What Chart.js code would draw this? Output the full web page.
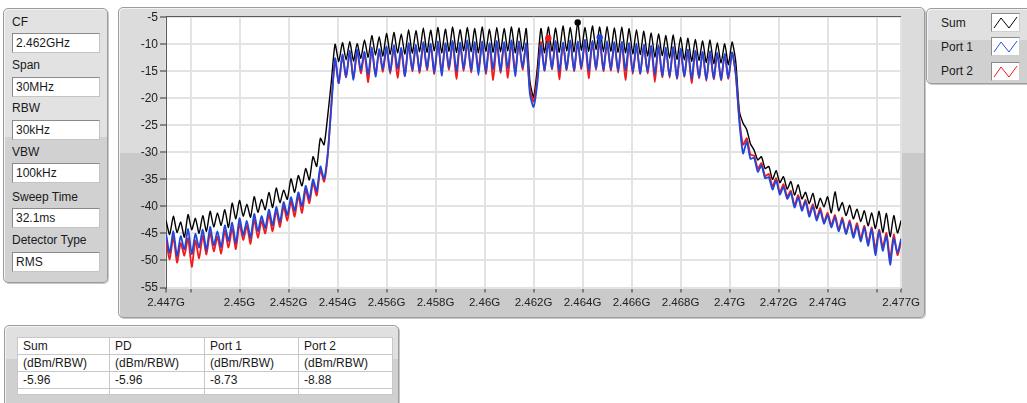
<!DOCTYPE html>
<html>
<head>
<meta charset="utf-8">
<script src="https://cdn.jsdelivr.net/npm/chart.js@4.4.1/dist/chart.umd.min.js"></script>
<style>
html,body{margin:0;padding:0;background:#fff;width:1027px;height:403px;overflow:hidden;
  font-family:'Liberation Sans',Arial,sans-serif;font-size:12px;color:#1a1a1a;}
.panel{position:absolute;border:1px solid #9c9c9c;border-radius:5px;box-sizing:border-box;
  box-shadow:inset 1px 1px 0 #f3f3f3, 1px 1px 0 #c8c8c8;}
.lbl{position:absolute;left:8px;line-height:14px;white-space:nowrap;}
.box{position:absolute;left:8px;width:88px;height:20px;background:#fff;border:1px solid #8a8a8a;
  border-right-color:#c4c4c4;border-bottom-color:#c4c4c4;box-sizing:border-box;padding-left:3px;line-height:18px;}
.leg{position:absolute;left:14px;line-height:14px;}
.legbox{position:absolute;left:64px;width:29px;height:19px;background:#fff;border:1px solid #8a8a8a;
  border-right-color:#cfcfcf;border-bottom-color:#cfcfcf;box-sizing:border-box;}
.legbox svg{position:absolute;left:0;top:0;}
table{position:absolute;left:12px;top:11px;border-collapse:collapse;background:#fff;border:1px solid #8a8a8a;}
td{border:1px solid #c8c8c8;padding:0 0 0 5px;height:16px;line-height:15px;white-space:nowrap;}
#chartWrap{position:absolute;left:119px;top:8px;width:804px;height:308px;}
</style>
</head>
<body>

<div class="panel" style="left:3px;top:8px;width:105px;height:275px;background:linear-gradient(#e2e2e2 0,#e2e2e2 47%,#d1d1d1 47%,#d1d1d1 100%);">
  <div class="lbl" style="top:6px">CF</div>
  <div class="box" style="top:24px">2.462GHz</div>
  <div class="lbl" style="top:49px">Span</div>
  <div class="box" style="top:68px">30MHz</div>
  <div class="lbl" style="top:92px">RBW</div>
  <div class="box" style="top:111px">30kHz</div>
  <div class="lbl" style="top:136px">VBW</div>
  <div class="box" style="top:154px">100kHz</div>
  <div class="lbl" style="top:181px">Sweep Time</div>
  <div class="box" style="top:199px">32.1ms</div>
  <div class="lbl" style="top:224px">Detector Type</div>
  <div class="box" style="top:243px">RMS</div>
</div>

<div class="panel" style="left:118px;top:7px;width:807px;height:311px;background:linear-gradient(#dcdcdc 0,#dcdcdc 47%,#cacaca 47%,#cacaca 100%);"></div>
<div id="chartWrap"><canvas id="c" width="804" height="308"></canvas></div>

<div class="panel" style="left:926px;top:8px;width:115px;height:76px;background:linear-gradient(#e0e0e0 0,#e0e0e0 42%,#d0d0d0 42%,#d0d0d0 100%);">
  <div class="leg" style="top:7px">Sum</div>
  <div class="legbox" style="top:4px"><svg width="27" height="17"><polyline points="2,14 9,4 17,14 25,3" fill="none" stroke="#000" stroke-width="1"/></svg></div>
  <div class="leg" style="top:31px">Port 1</div>
  <div class="legbox" style="top:28px"><svg width="27" height="17"><polyline points="2,14 9,4 17,14 25,3" fill="none" stroke="#2a4fe0" stroke-width="1"/></svg></div>
  <div class="leg" style="top:55px">Port 2</div>
  <div class="legbox" style="top:53px"><svg width="27" height="17"><polyline points="2,14 9,4 17,14 25,3" fill="none" stroke="#f01818" stroke-width="1"/></svg></div>
</div>

<div class="panel" style="left:4px;top:325px;width:395px;height:95px;background:linear-gradient(#e0e0e0 0,#e0e0e0 36%,#d0d0d0 36%,#d0d0d0 100%);">
  <table id="tbl"></table>
</div>

<script>
// ---- Sweep definition ----
const sweepStartGHz = 2.447;
const sweepStopGHz = 2.477;

// ---- Trace values (dBm/RBW), one per sweep point ----
const sumDbm = [
-42.6,-45.2,-41.8,-44.8,-42.9,-45.7,-41.5,-44.3,-42.2,-45.0,
-41.7,-44.6,-40.9,-43.8,-41.2,-43.5,-40.6,-43.9,-39.4,-42.3,
-38.9,-41.8,-39.6,-42.0,-38.2,-41.1,-38.7,-40.6,-37.4,-40.2,
-36.6,-39.3,-37.0,-38.7,-34.9,-37.4,-34.3,-36.2,-33.0,-35.1,
-30.8,-32.6,-27.4,-28.6,-23.2,-16.8,-10.0,-13.2,-9.7,-12.9,
-9.5,-13.1,-9.9,-12.6,-9.2,-12.4,-8.4,-12.0,-8.6,-12.2,
-8.0,-11.9,-7.8,-11.6,-8.1,-11.8,-7.3,-11.7,-7.5,-11.4,
-7.0,-11.5,-7.4,-11.2,-6.9,-11.6,-7.2,-11.3,-6.8,-11.5,
-7.3,-11.2,-6.9,-11.4,-7.1,-11.6,-6.8,-11.3,-7.2,-11.5,
-6.9,-11.4,-7.1,-11.2,-6.8,-11.6,-7.0,-11.3,-7.1,-16.8,
-19.8,-14.5,-7.1,-11.6,-6.8,-11.3,-7.0,-11.5,-6.6,-11.2,
-6.9,-11.4,-5.96,-11.1,-6.9,-11.3,-6.6,-11.0,-6.8,-11.4,
-6.7,-11.3,-7.0,-11.5,-6.8,-11.6,-7.1,-11.8,-7.3,-11.9,
-7.6,-12.2,-7.9,-12.4,-8.1,-12.1,-8.4,-12.6,-8.3,-12.8,
-8.7,-12.9,-8.9,-13.2,-9.1,-13.0,-9.4,-13.4,-9.2,-13.6,
-9.7,-13.5,-9.9,-13.8,-9.6,-13.2,-22.4,-24.6,-25.8,-28.4,
-29.6,-31.4,-30.8,-33.0,-32.6,-35.0,-33.4,-35.6,-34.5,-36.8,
-35.4,-37.9,-36.0,-38.6,-37.4,-39.5,-37.6,-40.4,-38.5,-40.1,
-38.2,-41.2,-37.3,-40.8,-39.3,-41.7,-39.8,-42.3,-40.5,-42.8,
-40.8,-43.6,-41.2,-44.1,-40.9,-44.8,-41.3,-45.6,-41.7,-44.9,
-42.6];

const port1Dbm = [
-45.0,-48.6,-44.6,-49.2,-45.5,-48.0,-44.2,-48.8,-45.1,-47.6,
-44.3,-48.1,-43.8,-47.2,-44.6,-47.5,-43.5,-46.4,-43.0,-46.8,
-42.2,-45.3,-42.7,-45.8,-41.4,-44.6,-41.8,-44.0,-40.6,-43.5,
-40.1,-42.9,-39.2,-41.6,-38.3,-40.8,-37.4,-40.0,-36.2,-38.6,
-35.0,-37.2,-32.6,-34.9,-30.2,-21.5,-12.6,-17.2,-11.9,-16.0,
-11.2,-16.6,-11.0,-14.8,-11.4,-15.6,-10.6,-16.0,-10.9,-14.6,
-10.4,-15.1,-10.2,-14.5,-10.7,-15.9,-9.8,-14.7,-10.1,-14.9,
-9.6,-14.4,-9.9,-15.2,-9.5,-15.8,-9.8,-14.3,-9.4,-15.0,
-9.7,-14.5,-9.3,-14.8,-9.6,-15.7,-9.5,-15.1,-9.8,-14.6,
-9.4,-14.9,-9.6,-14.4,-9.3,-15.9,-9.5,-14.3,-9.8,-19.2,
-21.6,-17.4,-10.2,-14.8,-9.6,-14.5,-9.4,-15.0,-9.7,-14.6,
-9.3,-14.8,-9.5,-14.3,-9.2,-14.9,-9.4,-14.5,-8.73,-14.7,
-9.4,-14.6,-9.6,-15.0,-9.5,-14.8,-9.8,-15.2,-9.9,-15.4,
-10.1,-15.1,-10.3,-15.6,-10.2,-15.8,-10.6,-16.0,-10.5,-16.2,
-10.8,-15.9,-11.0,-16.4,-11.2,-16.1,-11.4,-16.6,-11.3,-16.3,
-11.6,-16.5,-11.8,-16.2,-11.5,-15.4,-24.5,-30.2,-28.0,-31.2,
-31.0,-33.6,-32.4,-34.8,-34.6,-36.9,-35.2,-37.8,-36.4,-38.6,
-37.5,-40.2,-38.3,-40.8,-39.1,-41.9,-40.0,-42.6,-40.8,-43.2,
-41.6,-43.9,-42.0,-44.6,-42.5,-45.1,-43.0,-45.8,-43.6,-46.5,
-43.9,-47.3,-44.2,-49.0,-44.6,-48.2,-45.4,-50.8,-45.9,-48.6,
-46.0];

const port2Dbm = [
-46.2,-49.8,-45.6,-50.4,-46.8,-49.1,-45.9,-51.2,-46.3,-49.6,
-45.4,-48.9,-44.8,-48.3,-45.6,-48.7,-44.5,-47.6,-44.1,-47.9,
-43.2,-46.2,-43.6,-46.9,-42.4,-45.8,-42.7,-45.0,-41.5,-44.6,
-40.8,-43.8,-40.0,-42.6,-39.1,-41.9,-38.0,-41.2,-36.9,-39.4,
-35.6,-38.0,-33.2,-35.4,-30.6,-20.8,-12.9,-17.2,-12.2,-16.1,
-11.5,-16.3,-11.2,-15.4,-11.7,-17.0,-10.9,-15.6,-11.2,-15.1,
-10.6,-15.5,-10.5,-16.2,-11.0,-15.8,-10.1,-15.0,-10.4,-15.3,
-9.9,-14.8,-10.2,-15.5,-9.8,-15.0,-10.1,-14.7,-9.7,-16.4,
-10.0,-14.9,-9.6,-15.2,-9.9,-14.6,-9.8,-15.5,-10.1,-16.6,
-9.7,-15.3,-9.9,-16.2,-9.6,-15.1,-9.8,-14.7,-10.1,-18.2,
-20.6,-16.4,-9.6,-14.9,-8.88,-14.6,-9.6,-16.5,-9.9,-14.8,
-9.5,-15.0,-9.7,-14.6,-9.4,-16.3,-9.6,-14.8,-9.5,-15.0,
-9.7,-14.9,-9.9,-15.3,-9.8,-16.6,-10.1,-15.5,-10.2,-15.6,
-10.3,-15.4,-10.5,-17.0,-10.4,-16.1,-10.8,-16.2,-10.7,-16.4,
-11.0,-16.1,-11.1,-17.2,-11.3,-16.3,-11.5,-16.8,-11.4,-16.5,
-11.7,-16.7,-11.9,-16.4,-11.6,-15.6,-23.8,-28.6,-27.4,-30.4,
-30.6,-33.0,-32.0,-34.4,-34.0,-36.3,-34.8,-37.4,-35.9,-38.2,
-37.1,-39.8,-37.9,-40.5,-38.8,-41.4,-39.6,-42.2,-40.3,-42.9,
-41.2,-43.5,-41.6,-44.3,-42.1,-45.0,-42.6,-45.4,-43.1,-46.0,
-43.6,-46.8,-43.9,-47.9,-44.3,-47.5,-44.9,-49.6,-45.2,-49.0,
-46.5];

// ---- Peak markers ----
const markerNames = ['Sum', 'Port 1', 'Port 2'];
const markerFreqGHz = [2.4638, 2.4647, 2.4626];
const markerDbm = [-5.96, -8.73, -8.88];

// ---- Axis ticks ----
const xTickValues = [2.447, 2.448, 2.450, 2.452, 2.454, 2.456, 2.458, 2.460, 2.462, 2.464, 2.466, 2.468, 2.470, 2.472, 2.474, 2.476, 2.477];
const xTickLabels = ['2.447G', '', '2.45G', '2.452G', '2.454G', '2.456G', '2.458G', '2.46G', '2.462G', '2.464G', '2.466G', '2.468G', '2.47G', '2.472G', '2.474G', '', '2.477G'];
const yMin = -55, yMax = -5, yStep = 5;

// ---- Table ----
const tableHeaders = ['Sum', 'PD', 'Port 1', 'Port 2'];
const tableUnits = ['(dBm/RBW)', '(dBm/RBW)', '(dBm/RBW)', '(dBm/RBW)'];
const tableValues = ['-5.96', '-5.96', '-8.73', '-8.88'];

(function buildTable(){
  const widths = [86, 89, 88, 88];
  const t = document.getElementById('tbl');
  const rows = [tableHeaders, tableUnits, tableValues, ['', '', '', '']];
  rows.forEach((r, ri) => {
    const tr = document.createElement('tr');
    r.forEach((v, ci) => {
      const td = document.createElement('td');
      td.textContent = v;
      td.style.width = widths[ci] + 'px';
      if (ri === 3) { td.style.height = '5px'; td.style.lineHeight = '5px'; }
      tr.appendChild(td);
    });
    t.appendChild(tr);
  });
})();

const nPts = sumDbm.length;
const stepGHz = (sweepStopGHz - sweepStartGHz) / (nPts - 1);
const freqGHz = sumDbm.map((_, i) => sweepStartGHz + i * stepGHz);
const xy = arr => arr.map((v, i) => ({x: freqGHz[i], y: v}));

const FONT = "'Liberation Sans', Arial, sans-serif";

const plotBg = {
  id: 'plotBg',
  beforeDraw(c) {
    const {ctx, chartArea: a} = c;
    ctx.save();
    ctx.fillStyle = '#ffffff';
    ctx.fillRect(a.left, a.top, a.right - a.left, a.bottom - a.top);
    ctx.restore();
  },
  afterDraw(c) {
    const {ctx, chartArea: a} = c;
    ctx.save();
    ctx.strokeStyle = '#5a5a5a';
    ctx.lineWidth = 1;
    ctx.beginPath();
    ctx.moveTo(a.left, Math.round(a.top) - 0.5);
    ctx.lineTo(a.right, Math.round(a.top) - 0.5);
    ctx.stroke();
    ctx.restore();
  }
};

const traceColors = ['#000000', '#2046dc', '#f21a1a'];

new Chart(document.getElementById('c'), {
  type: 'line',
  data: {
    datasets: [
      {label: 'Sum', data: xy(sumDbm), borderColor: traceColors[0], borderWidth: 1.4, pointRadius: 0, tension: 0.2, order: 3},
      {label: 'Port 2', data: xy(port2Dbm), borderColor: traceColors[2], borderWidth: 1.8, pointRadius: 0, tension: 0.2, order: 2},
      {label: 'Port 1', data: xy(port1Dbm), borderColor: traceColors[1], borderWidth: 1.8, pointRadius: 0, tension: 0.2, order: 1},
      ...markerNames.map((n, k) => ({
        label: n + ' peak', data: [{x: markerFreqGHz[k], y: markerDbm[k]}], showLine: false,
        pointRadius: 3.2, pointBackgroundColor: traceColors[k], pointBorderColor: traceColors[k], pointBorderWidth: 0, order: 0
      }))
    ]
  },
  options: {
    responsive: false,
    maintainAspectRatio: false,
    animation: false,
    devicePixelRatio: 1,
    layout: {padding: {left: 0, right: 21, top: 7.5, bottom: 0}},
    plugins: {legend: {display: false}, tooltip: {enabled: false}},
    scales: {
      x: {
        type: 'linear', min: sweepStartGHz, max: sweepStopGHz,
        afterBuildTicks(s) { s.ticks = xTickValues.map(v => ({value: v})); },
        ticks: {autoSkip: false, maxRotation: 0, minRotation: 0, color: '#222', padding: 3,
                font: {family: FONT, size: 11.5}, callback: (v, i) => xTickLabels[i]},
        grid: {color: '#e3e3e3', lineWidth: 2, tickColor: '#333', tickLength: 5, tickWidth: 1},
        border: {display: false},
        afterFit(s) { s.height = 28.5; }
      },
      y: {
        min: yMin, max: yMax,
        ticks: {stepSize: yStep, color: '#222', padding: 2, font: {family: FONT, size: 12}},
        grid: {color: '#e3e3e3', lineWidth: 2, tickColor: '#333', tickLength: 6, tickWidth: 1},
        border: {display: true, color: '#5a5a5a', width: 1},
        afterFit(s) { s.width = 47; }
      }
    }
  },
  plugins: [plotBg]
});
</script>
</body>
</html>
